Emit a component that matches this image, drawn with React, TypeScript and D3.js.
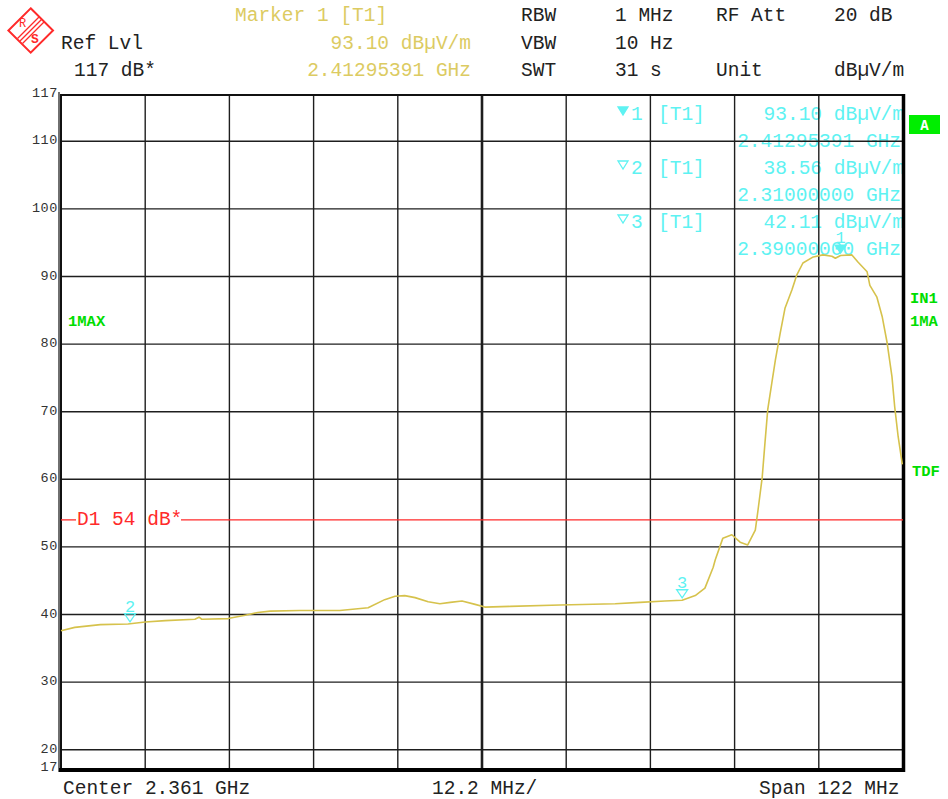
import React from "react";
import * as d3 from "d3";

// ---- data ----
const traceFreqMHz = [2300.0, 2302.0, 2305.7, 2309.7, 2312.2, 2315.1, 2319.4, 2320.0, 2320.4, 2324.2, 2326.7, 2328.5, 2330.3, 2334.6, 2340.4, 2344.5, 2346.9, 2348.4, 2349.8, 2351.3, 2353.2, 2354.9, 2356.4, 2358.1, 2360.0, 2361.4, 2365.1, 2372.3, 2380.3, 2383.9, 2387.5, 2390.0, 2391.9, 2393.3, 2394.5, 2394.8, 2395.9, 2397.2, 2398.4, 2399.5, 2400.6, 2401.0, 2401.6, 2402.0, 2402.4, 2403.0, 2403.5, 2404.2, 2404.9, 2405.9, 2406.6, 2407.5, 2409.0, 2410.4, 2411.7, 2412.2, 2412.95, 2414.6, 2415.5, 2416.8, 2417.2, 2418.2, 2419.0, 2419.7, 2420.4, 2420.8, 2421.3, 2421.9];
const traceLevelDb = [37.6, 38.1, 38.5, 38.6, 38.9, 39.1, 39.3, 39.6, 39.3, 39.4, 39.9, 40.3, 40.5, 40.6, 40.6, 41.0, 42.2, 42.7, 42.8, 42.5, 41.9, 41.6, 41.8, 42.0, 41.5, 41.1, 41.2, 41.4, 41.6, 41.8, 42.0, 42.11, 42.8, 43.9, 47.0, 48.1, 51.3, 51.8, 50.7, 50.3, 52.5, 55.5, 60.3, 65.4, 70.3, 74.3, 77.6, 81.6, 85.3, 88.0, 90.2, 92.0, 92.9, 93.2, 93.0, 92.7, 93.1, 93.2, 92.1, 90.7, 88.7, 87.0, 84.0, 80.2, 75.2, 70.7, 66.3, 62.2];

const markerIds = ["1", "2", "3"];
const markerFreqMHz = [2412.95391, 2310.0, 2390.0];
const markerLevelDb = [93.1, 38.56, 42.11];
const markerLevelText = ["93.10 dBµV/m", "38.56 dBµV/m", "42.11 dBµV/m"];
const markerFreqText = ["2.41295391 GHz", "2.31000000 GHz", "2.39000000 GHz"];
const markerFilled = [true, false, false];

const yTickValues = [117, 110, 100, 90, 80, 70, 60, 50, 40, 30, 20, 17];
const yGridValues = [110, 100, 90, 80, 70, 60, 50, 40, 30, 20];
const freqStartMHz = 2300;
const freqStopMHz = 2422;
const divisions = 10;
const displayLineDb = 54;

const FONT = "'Liberation Mono', 'Courier New', monospace";
const BLACK = "#222";
const YELLOW_TXT = "#dccb62";
const TRACE = "#d6c24c";
const CYAN = "#5ef2f2";
const GREEN = "#00dd00";
const RED = "#ff2a2a";

export default function App() {
  const L = 61, R = 903, T = 94, B = 770;
  const x = d3.scaleLinear().domain([freqStartMHz, freqStopMHz]).range([L, R]);
  const y = d3.scaleLinear().domain([17, 117]).range([B, T]);
  const line = d3
    .line<number>()
    .x((_, i) => x(traceFreqMHz[i]))
    .y((d) => y(d))
    .curve(d3.curveLinear);
  const step = (freqStopMHz - freqStartMHz) / divisions;
  const vGrid = d3.range(1, divisions).map((i) => freqStartMHz + i * step);

  const tri = (cx: number, tipY: number) =>
    `M${cx - 5.5},${tipY - 8} L${cx + 5.5},${tipY - 8} L${cx},${tipY} Z`;

  const big = { fontFamily: FONT, fontSize: 19.5 };
  const rowY = [120, 174, 228];

  return (
    <div style={{ position: "absolute", left: 0, top: 0 }}>
      <svg width={948} height={799} style={{ display: "block", background: "#fff" }}>
        {/* R&S logo */}
        <g>
          <path d="M30.7,8.3 L53,30.5 L30.7,52.7 L8.4,30.5 Z" fill="none" stroke={RED} strokeWidth={2} />
          {[-2.5, 0, 2.5].map((o) => (
            <line key={o} x1={20 + o} y1={41 + o} x2={41.5 + o} y2={19.5 + o} stroke={RED} strokeWidth={1.2} />
          ))}
          <text x={19} y={27} fontFamily={FONT} fontSize={12} fill={RED}>R</text>
          <text x={31} y={43} fontFamily={FONT} fontSize={13} fontWeight="bold" fill={RED}>S</text>
        </g>

        {/* header */}
        <g {...big}>
          <text x={61} y={49} fill={BLACK}>Ref Lvl</text>
          <text x={74} y={76} fill={BLACK}>117 dB*</text>
          <text x={235} y={21} fill={YELLOW_TXT}>Marker 1 [T1]</text>
          <text x={471} y={49} fill={YELLOW_TXT} textAnchor="end">93.10 dBµV/m</text>
          <text x={471} y={76} fill={YELLOW_TXT} textAnchor="end">2.41295391 GHz</text>
          <text x={521} y={21} fill={BLACK}>RBW</text>
          <text x={615} y={21} fill={BLACK}>1 MHz</text>
          <text x={716} y={21} fill={BLACK}>RF Att</text>
          <text x={834} y={21} fill={BLACK}>20 dB</text>
          <text x={521} y={49} fill={BLACK}>VBW</text>
          <text x={615} y={49} fill={BLACK}>10 Hz</text>
          <text x={521} y={76} fill={BLACK}>SWT</text>
          <text x={615} y={76} fill={BLACK}>31 s</text>
          <text x={716} y={76} fill={BLACK}>Unit</text>
          <text x={834} y={76} fill={BLACK}>dBµV/m</text>
        </g>

        {/* marker table inside plot */}
        <g {...big} fill={CYAN}>
          {markerIds.map((id, i) => (
            <g key={id}>
              <path
                d={`M618,${rowY[i] - 13} L628,${rowY[i] - 13} L623,${rowY[i] - 5} Z`}
                fill={markerFilled[i] ? CYAN : "none"}
                stroke={CYAN}
                strokeWidth={1.3}
              />
              <text x={631} y={rowY[i]}>{id}</text>
              <text x={658} y={rowY[i]}>[T1]</text>
              <text x={904} y={rowY[i]} textAnchor="end">{markerLevelText[i]}</text>
              <text x={901} y={rowY[i] + 27} textAnchor="end">{markerFreqText[i]}</text>
            </g>
          ))}
        </g>

        {/* grid */}
        <g stroke="#1e1e1e">
          {yGridValues.map((v) => (
            <line key={v} x1={L} x2={R} y1={y(v)} y2={y(v)} strokeWidth={1.4} />
          ))}
          {vGrid.map((f, i) => (
            <line key={f} x1={x(f)} x2={x(f)} y1={T} y2={B} strokeWidth={i === 4 ? 2.6 : 1.4} />
          ))}
        </g>
        {/* frame */}
        <line x1={59} x2={59} y1={92} y2={772} stroke="#222" strokeWidth={1.3} />
        <line x1={L} x2={L} y1={T} y2={B} stroke="#111" strokeWidth={2} />
        <line x1={L} x2={R + 1.5} y1={T + 1} y2={T + 1} stroke="#111" strokeWidth={2} />
        <line x1={R + 0.5} x2={R + 0.5} y1={T} y2={B + 2} stroke="#000" strokeWidth={3.5} />
        <line x1={59} x2={R + 2} y1={B} y2={B} stroke="#000" strokeWidth={4} />

        {/* y tick labels */}
        <g fontFamily={FONT} fontSize={13.5} fill="#333" letterSpacing={0.6} textAnchor="end">
          {yTickValues.map((v) => (
            <text key={v} x={58} y={y(v) + (v === 17 ? 1 : v === 117 ? 3 : 3)}>{v}</text>
          ))}
        </g>

        {/* display line D1 */}
        <line x1={L} x2={76} y1={y(displayLineDb)} y2={y(displayLineDb)} stroke={RED} strokeWidth={1.3} />
        <line x1={181} x2={R} y1={y(displayLineDb)} y2={y(displayLineDb)} stroke={RED} strokeWidth={1.3} />
        <text x={77} y={y(displayLineDb) + 5} fontFamily={FONT} fontSize={19.5} fill={RED}>D1 54 dB*</text>

        {/* trace */}
        <path d={line(traceLevelDb) || ""} fill="none" stroke={TRACE} strokeWidth={1.6} strokeLinejoin="round" />

        {/* markers on trace */}
        {markerIds.map((id, i) => {
          const cx = x(markerFreqMHz[i]);
          const tip = y(markerLevelDb[i]) - 2.5;
          return (
            <g key={id}>
              <path d={tri(cx, tip)} fill={markerFilled[i] ? CYAN : "none"} stroke={CYAN} strokeWidth={1.3} />
              <text x={cx} y={tip - 10} textAnchor="middle" fontFamily={FONT} fontSize={17} fill={CYAN}>{id}</text>
            </g>
          );
        })}

        {/* side labels */}
        <rect x={909} y={115} width={31} height={19} fill="#00ee00" />
        <text x={924.5} y={130} textAnchor="middle" fontFamily={FONT} fontSize={14} fontWeight="bold" fill="#fff">A</text>
        <g fontFamily={FONT} fontSize={15.5} fontWeight="bold" fill={GREEN}>
          <text x={68} y={326}>1MAX</text>
          <text x={910} y={303}>IN1</text>
          <text x={910} y={326}>1MA</text>
          <text x={912} y={476}>TDF</text>
        </g>

        {/* bottom labels */}
        <g {...big} fill={BLACK}>
          <text x={63} y={794}>Center 2.361 GHz</text>
          <text x={432} y={794}>12.2 MHz/</text>
          <text x={759} y={794}>Span 122 MHz</text>
        </g>
      </svg>
    </div>
  );
}
